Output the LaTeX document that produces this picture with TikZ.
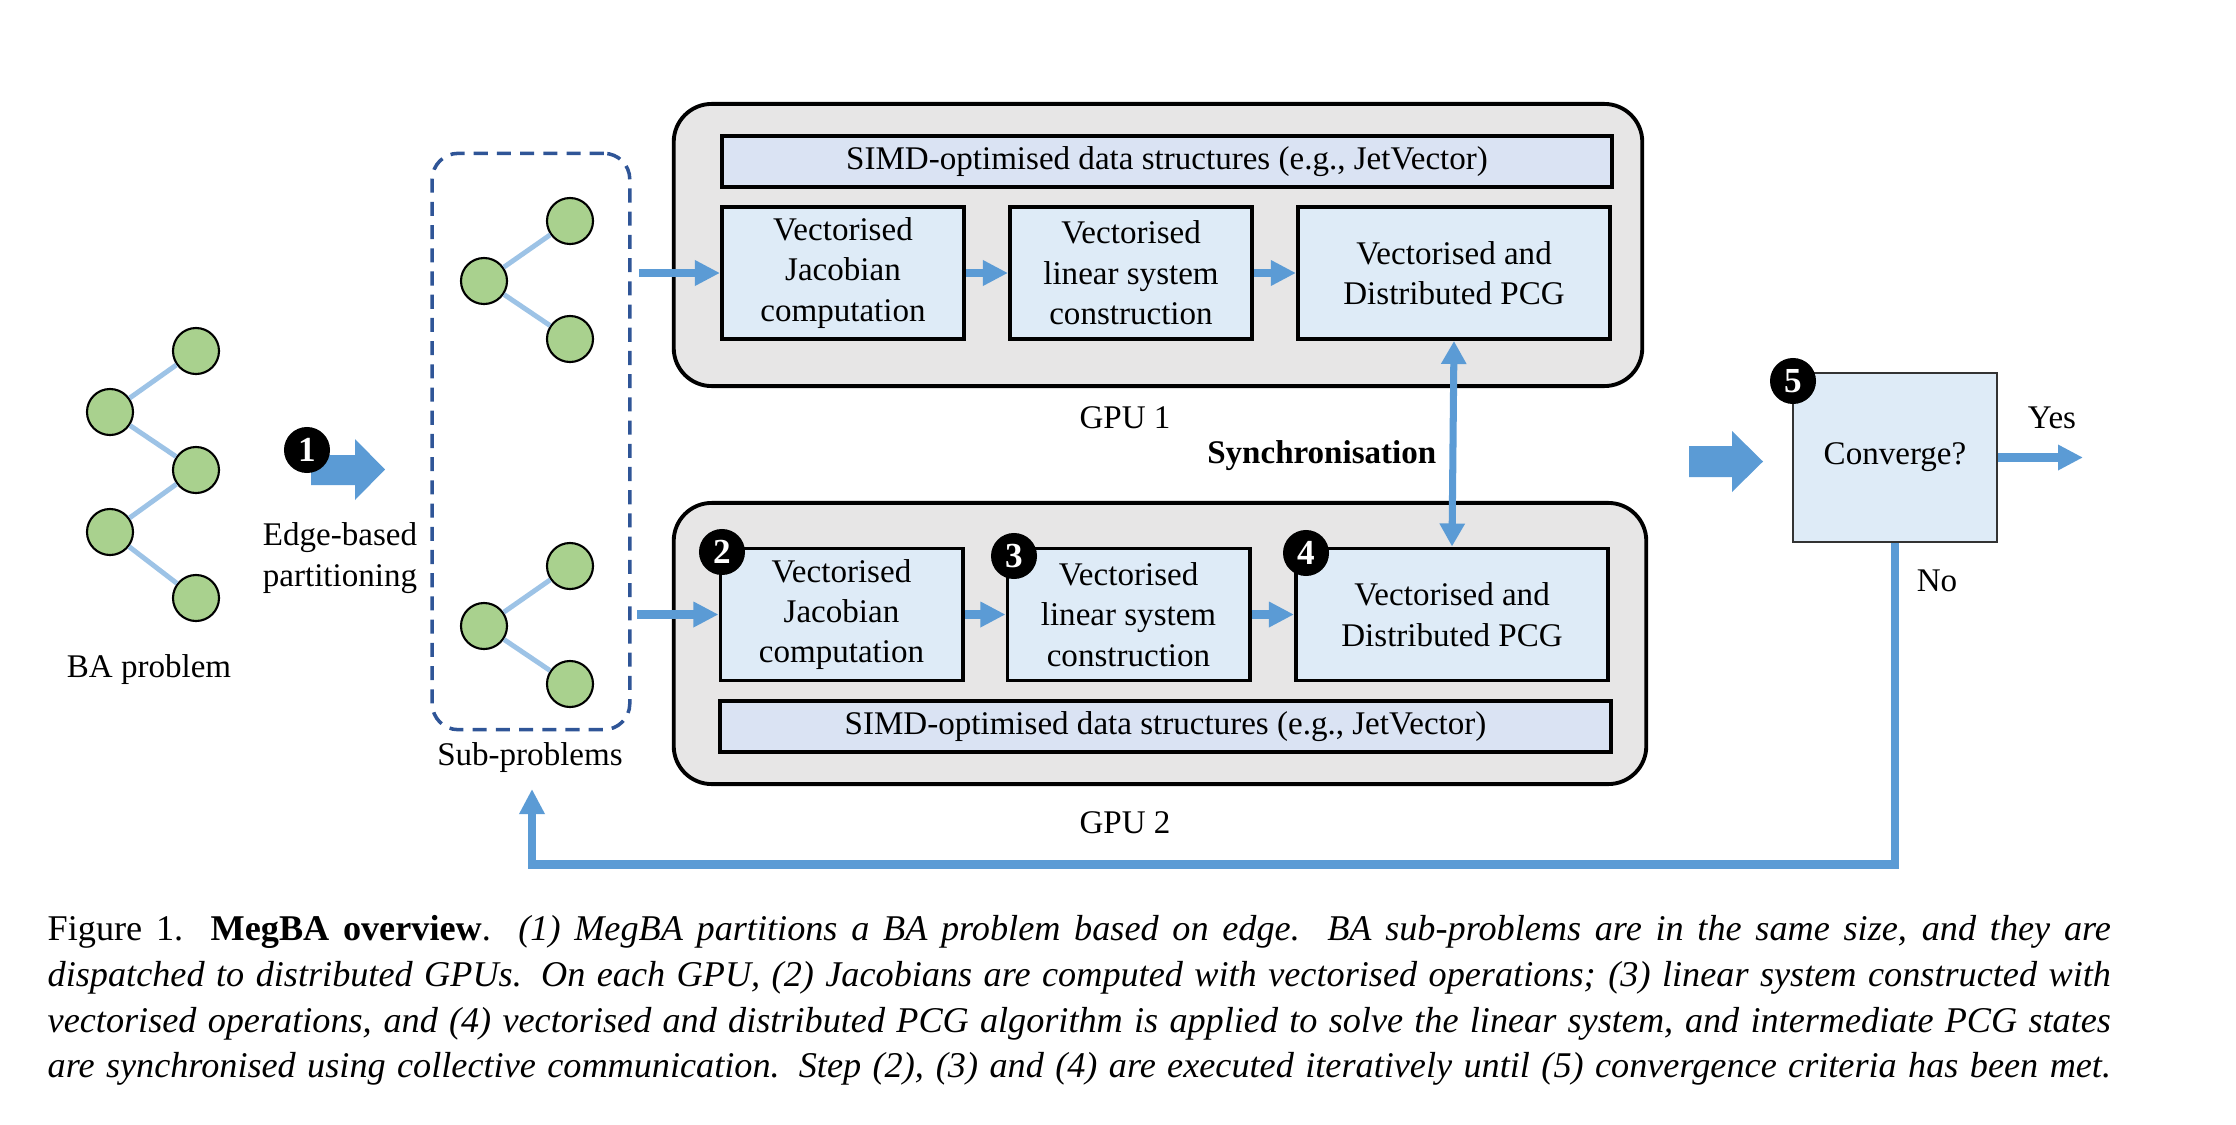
\documentclass[tikz,border=0pt]{standalone}
\usepackage{fontspec}
\setmainfont{Liberation Serif}
\usetikzlibrary{arrows.meta}
\definecolor{arrowblue}{HTML}{5B9BD5}
\definecolor{treeblue}{HTML}{9DC3E6}
\definecolor{boxfill}{HTML}{DEEBF7}
\definecolor{simdfill}{HTML}{DAE3F3}
\definecolor{gpufill}{HTML}{E7E6E6}
\definecolor{treegreen}{HTML}{A9D18E}
\definecolor{dashblue}{HTML}{2F5597}
\newcommand{\dfont}{\fontsize{9.4}{11.5}\selectfont}
\newcommand{\bdgfont}{\fontsize{10}{12}\selectfont\bfseries}
\newcommand{\cfont}{\fontsize{10.3}{13}\selectfont}
\begin{document}
\begin{tikzpicture}[x=0.01cm,y=-0.01cm,
  gpubox/.style={draw, line width=1.1pt, fill=gpufill, rounded corners=0.38cm, inner sep=0},
  stepbox/.style={draw, line width=1.1pt, fill=boxfill, align=center, inner sep=0, font=\dfont, minimum height=1.32cm},
  simdbox/.style={draw, line width=1.1pt, fill=simdfill, inner sep=0, font=\dfont, minimum height=0.51cm, minimum width=8.9cm},
  badge/.style={circle, fill=black, text=white, font=\bdgfont, inner sep=0, minimum size=0.46cm},
  tnode/.style={circle, draw, fill=treegreen, line width=0.6pt, minimum size=0.46cm, inner sep=0},
  tedge/.style={treeblue, line width=1.4pt},
  flow/.style={arrowblue, line width=2.3pt, -{Triangle[length=0.25cm, width=0.24cm]}},
  syncarrow/.style={arrowblue, line width=2pt, {Triangle[length=0.23cm, width=0.24cm]}-{Triangle[length=0.23cm, width=0.24cm]}},
  txt/.style={font=\dfont, align=center, inner sep=0}
]
\useasboundingbox (0,0) rectangle (2236,1124);

% BA problem tree
\node[tnode] (ba1) at (196,351) {};
\node[tnode] (ba2) at (110,412) {};
\node[tnode] (ba3) at (196,470) {};
\node[tnode] (ba4) at (110,532) {};
\node[tnode] (ba5) at (196,598) {};
\draw[tedge] (ba2) -- (ba1);
\draw[tedge] (ba2) -- (ba3);
\draw[tedge] (ba4) -- (ba3);
\draw[tedge] (ba4) -- (ba5);
\node[txt] (baLabel) at (149,670) {BA problem};

% partition arrow
\fill[arrowblue] (311,455) -- (355,455) -- (355,439) -- (385,469.5) -- (355,500) -- (355,485) -- (311,485) -- cycle;
\node[badge] (b1) at (307,450) {1};
\node[txt] (edgeLabel) at (340,558) {Edge-based\\partitioning};

% sub-problems
\node[draw=dashblue, dashed, dash pattern=on 4pt off 2.6pt, line width=1pt, rounded corners=0.26cm, minimum width=1.975cm, minimum height=5.76cm, inner sep=0] (sub) at (531,441.5) {};
\node[tnode] (su1) at (484,281) {};
\node[tnode] (su2) at (570,221) {};
\node[tnode] (su3) at (570,339) {};
\node[tnode] (sl1) at (484,626) {};
\node[tnode] (sl2) at (570,566) {};
\node[tnode] (sl3) at (570,684) {};
\draw[tedge] (su1) -- (su2);
\draw[tedge] (su1) -- (su3);
\draw[tedge] (sl1) -- (sl2);
\draw[tedge] (sl1) -- (sl3);
\node[txt] (subLabel) at (530,758) {Sub-problems};

% GPU 1
\node[gpubox, minimum width=9.68cm, minimum height=2.82cm] (gpu1) at (1158,245) {};
\node[simdbox] (simd1) at (1167,161.5) {\raisebox{-1.5pt}{SIMD-optimised data structures (e.g., JetVector)}};
\node[stepbox, minimum width=2.42cm] (jac1) at (843,273) {Vectorised\\Jacobian\\computation};
\node[stepbox, minimum width=2.42cm] (lin1) at (1131,273) {Vectorised\\linear system\\construction};
\node[stepbox, minimum width=3.12cm] (pcg1) at (1454,273) {Vectorised and\\Distributed PCG};
\node[txt] (gpu1Label) at (1125,418) {GPU 1};

% GPU 2
\node[gpubox, minimum width=9.72cm, minimum height=2.81cm] (gpu2) at (1160,643.5) {};
\node[stepbox, minimum width=2.42cm] (jac2) at (841.5,614.5) {Vectorised\\Jacobian\\computation};
\node[stepbox, minimum width=2.42cm] (lin2) at (1128.5,614.5) {Vectorised\\linear system\\construction};
\node[stepbox, minimum width=3.12cm] (pcg2) at (1452,614.5) {Vectorised and\\Distributed PCG};
\node[simdbox] (simd2) at (1165.5,726.5) {\raisebox{-1.5pt}{SIMD-optimised data structures (e.g., JetVector)}};
\node[txt] (gpu2Label) at (1125,823) {GPU 2};
\node[badge] (b2) at (722,552) {2};
\node[badge] (b3) at (1014,556) {3};
\node[badge] (b4) at (1306,553) {4};

% flows
\coordinate (s1) at (639,273);
\coordinate (s2) at (637,614.5);
\draw[flow] (s1) -- (jac1.west);
\draw[flow] (jac1.east) -- (lin1.west);
\draw[flow] (lin1.east) -- (pcg1.west);
\draw[flow] (s2) -- (jac2.west);
\draw[flow] (jac2.east) -- (lin2.west);
\draw[flow] (lin2.east) -- (pcg2.west);
\draw[syncarrow] (pcg1.south) -- (pcg2.north);
\node[font=\dfont\bfseries, anchor=east, inner sep=0] (syncLabel) at (1437,456) {Synchronisation};

% converge
\fill[arrowblue] (1689,446) -- (1732,446) -- (1732,431) -- (1763,461.5) -- (1732,492) -- (1732,477) -- (1689,477) -- cycle;
\node[draw=black!80, line width=0.8pt, fill=boxfill, minimum width=2.04cm, minimum height=1.69cm, inner sep=0, font=\dfont] (conv) at (1895,457.5) {\raisebox{-3pt}{Converge?}};
\node[badge] (b5) at (1793,381) {5};
\coordinate (yesEnd) at (2083,457.5);
\draw[flow] (conv.east) -- (yesEnd);
\node[txt] (yesLabel) at (2052,418) {Yes};
\node[txt] (noLabel) at (1937,581) {No};
\coordinate (fbEnd) at (532,789);
\draw[flow] (conv.south) -- ++(0,321) -| (fbEnd);

% caption
\node[anchor=north west, inner sep=0, font=\cfont, align=left] (cap) at (47,915) {%
\makebox[20.62cm][s]{Figure 1.\ \ \textbf{MegBA overview}.\ \ \textit{(1) MegBA partitions a BA problem based on edge.\ \ BA sub-problems are in the same size, and they are}}\\
\makebox[20.62cm][s]{\textit{dispatched to distributed GPUs. On each GPU, (2) Jacobians are computed with vectorised operations; (3) linear system constructed with}}\\
\makebox[20.62cm][s]{\textit{vectorised operations, and (4) vectorised and distributed PCG algorithm is applied to solve the linear system, and intermediate PCG states}}\\
\makebox[20.62cm][s]{\textit{are synchronised using collective communication. Step (2), (3) and (4) are executed iteratively until (5) convergence criteria has been met.}}};
\end{tikzpicture}
\end{document}
